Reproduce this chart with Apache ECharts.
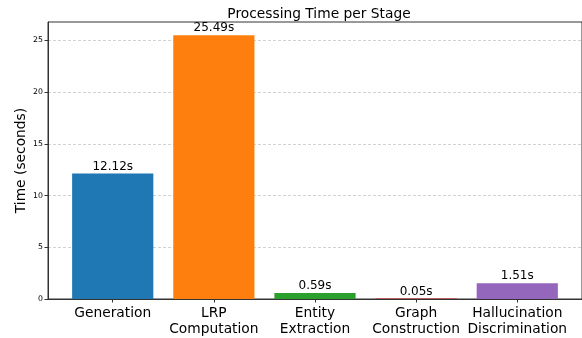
<!DOCTYPE html>
<html>
<head>
<meta charset="utf-8">
<script src="https://cdn.jsdelivr.net/npm/echarts@6/dist/echarts.min.js"></script>
<style>html,body{margin:0;padding:0;background:#fff}#c{width:582px;height:338px}</style>
</head>
<body>
<div id="c"></div>
<script>
const categories = ['Generation', 'LRP\nComputation', 'Entity\nExtraction', 'Graph\nConstruction', 'Hallucination\nDiscrimination'];
const times = [12.12, 25.49, 0.59, 0.05, 1.51];
const colors = ['#1f77b4', '#ff7f0e', '#2ca02c', '#d62728', '#9467bd'];
const yTicks = [0, 5, 10, 15, 20, 25];

const FONT = 'DejaVu Sans';
const gridLeft = 48, gridRight = -2;
const xMin = -0.64, xMax = categories.length - 1 + 0.64;
const plotW = 582 - gridLeft - gridRight;
const barW = plotW / (xMax - xMin) * 0.8;

const chart = echarts.init(document.getElementById('c'), null, {renderer: 'canvas'});
chart.setOption({
  animation: false,
  backgroundColor: '#fff',
  title: {
    text: 'Processing Time per Stage',
    left: (gridLeft + 582 - gridRight) / 2 - 2,
    textAlign: 'center',
    top: 2,
    textStyle: {fontFamily: FONT, fontSize: 13.8, fontWeight: 'normal', color: '#000'}
  },
  grid: {left: gridLeft, right: gridRight, top: 22, bottom: 39, show: true, borderColor: '#333', borderWidth: 1, backgroundColor: 'transparent'},
  xAxis: {
    type: 'value', min: xMin, max: xMax,
    splitLine: {show: false},
    axisLine: {show: true, onZero: false, lineStyle: {color: '#333', width: 1}},
    axisTick: {show: true, length: 3.5, customValues: categories.map((_, i) => i), lineStyle: {color: '#333'}},
    axisLabel: {
      customValues: categories.map((_, i) => i),
      formatter: v => categories[Math.round(v)],
      fontFamily: FONT, fontSize: 13.8, color: '#000', lineHeight: 16, margin: 6
    }
  },
  yAxis: {
    type: 'value', min: 0, max: Math.max(...times) * 1.05, interval: 5,
    name: 'Time (seconds)', nameLocation: 'middle', nameGap: 20, nameMoveOverlap: false,
    nameTextStyle: {fontFamily: FONT, fontSize: 13.8, color: '#000'},
    axisLine: {show: true, onZero: false, lineStyle: {color: '#333', width: 1}},
    axisTick: {show: true, length: 3.5, customValues: yTicks, lineStyle: {color: '#333'}},
    axisLabel: {fontFamily: FONT, fontSize: 7.8, color: '#000', margin: 5, customValues: yTicks},
    splitLine: {show: true, lineStyle: {color: '#c8c8c8', type: [3, 2], width: 0.8}}
  },
  series: [{
    type: 'bar',
    barWidth: barW,
    data: times.map((t, i) => ({value: [i, t], itemStyle: {color: colors[i]}})),
    label: {
      show: true, position: 'top', distance: 1,
      formatter: p => times[p.dataIndex].toFixed(2) + 's',
      fontFamily: FONT, fontSize: 12, color: '#000'
    }
  }]
});
</script>
</body>
</html>
